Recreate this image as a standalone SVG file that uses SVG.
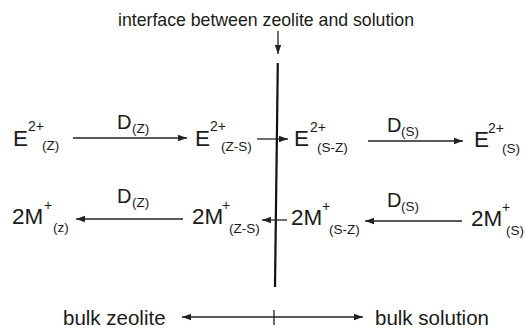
<svg xmlns="http://www.w3.org/2000/svg" width="526" height="331" viewBox="0 0 526 331">
<defs>
<marker id="ah" markerWidth="10" markerHeight="8" refX="9" refY="4" orient="auto" markerUnits="userSpaceOnUse">
<path d="M0,0.8 L9,4 L0,7.2 Z" fill="#222"/>
</marker>
</defs>
<style>
text{font-family:"Liberation Sans",Arial,sans-serif;fill:#1a1a1a}
.big{font-size:22.5px}
.sup{font-size:14px}
.sub{font-size:13.5px}
.d{font-size:20px}
.lab{font-size:17.7px}
.bot{font-size:20.5px}
.c{stroke:#222;stroke-width:1.3;fill:none}
.ln{stroke:#111;stroke-width:2.2;fill:none}
</style>
<rect width="526" height="331" fill="#fff"/>
<g id="title"><text class="lab" x="118" y="26">interface between zeolite and solution</text></g>
<g id="E_Z"><text class="big" x="13" y="146">E</text><text class="sup" x="28" y="131">2+</text><text class="sub" x="42" y="150">(Z)</text></g>
<g id="E_ZS"><text class="big" x="195" y="146">E</text><text class="sup" x="210" y="131">2+</text><text class="sub" x="221" y="151">(Z-S)</text></g>
<g id="E_SZ"><text class="big" x="294" y="146">E</text><text class="sup" x="310" y="132">2+</text><text class="sub" x="317" y="152">(S-Z)</text></g>
<g id="E_S"><text class="big" x="474" y="147">E</text><text class="sup" x="488" y="133">2+</text><text class="sub" x="502" y="153">(S)</text></g>
<g id="DZ1"><text class="d" x="117" y="129">D</text><text class="sub" x="132" y="133">(Z)</text></g>
<g id="DS1"><text class="d" x="387" y="132">D</text><text class="sub" x="401" y="136">(S)</text></g>
<g id="M_Z"><text class="big" x="12" y="224">2M</text><text class="sup" x="44" y="210">+</text><text class="sub" x="53" y="232">(z)</text></g>
<g id="M_ZS"><text class="big" x="192" y="224">2M</text><text class="sup" x="222" y="210">+</text><text class="sub" x="229" y="233">(Z-S)</text></g>
<g id="M_SZ"><text class="big" x="291" y="225">2M</text><text class="sup" x="322" y="211">+</text><text class="sub" x="329" y="234">(S-Z)</text></g>
<g id="M_S"><text class="big" x="471" y="226">2M</text><text class="sup" x="502" y="212">+</text><text class="sub" x="506" y="235">(S)</text></g>
<g id="DZ2"><text class="d" x="117" y="203">D</text><text class="sub" x="132" y="207">(Z)</text></g>
<g id="DS2"><text class="d" x="387" y="207">D</text><text class="sub" x="401" y="211">(S)</text></g>
<g id="bz"><text class="bot" x="63" y="325">bulk zeolite</text></g>
<g id="bs"><text class="bot" x="375" y="325">bulk solution</text></g>
<g id="connectors">
<line class="c" x1="278" y1="31" x2="278" y2="54" marker-end="url(#ah)"/>
<line class="ln" x1="277.8" y1="63" x2="275" y2="287"/>
<line class="c" x1="73" y1="138" x2="187" y2="138" marker-end="url(#ah)"/>
<line class="c" x1="257" y1="139" x2="288" y2="139" marker-end="url(#ah)"/>
<line class="c" x1="368" y1="141" x2="463" y2="141" marker-end="url(#ah)"/>
<line class="c" x1="183" y1="219" x2="76" y2="219" marker-end="url(#ah)"/>
<line class="c" x1="287" y1="220" x2="262" y2="220" marker-end="url(#ah)"/>
<line class="c" x1="462" y1="221" x2="365" y2="221" marker-end="url(#ah)"/>
<line class="c" x1="274" y1="317" x2="182" y2="317" marker-end="url(#ah)"/>
<line class="c" x1="274" y1="317" x2="363" y2="317" marker-end="url(#ah)"/>
<line class="c" x1="274" y1="310" x2="274" y2="325"/>
</g>
</svg>
